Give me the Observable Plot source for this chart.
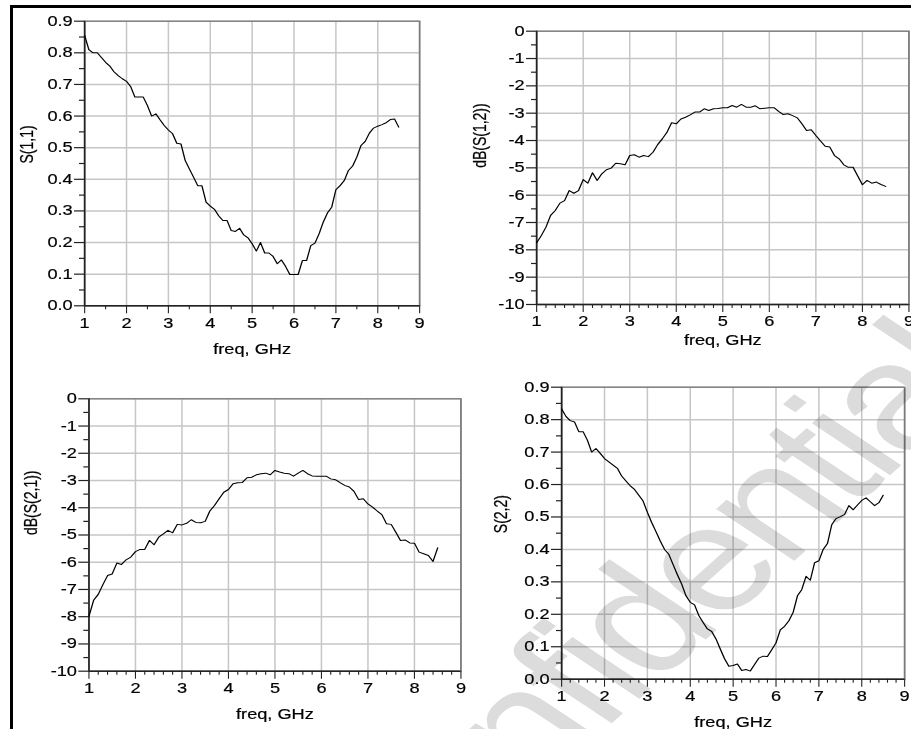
<!DOCTYPE html>
<html><head><meta charset="utf-8">
<script src="https://cdn.jsdelivr.net/npm/d3@7"></script>
<script src="https://cdn.jsdelivr.net/npm/@observablehq/plot@0.6"></script>
<style>
html,body{margin:0;padding:0;background:#fff;}
#root{position:relative;width:911px;height:729px;overflow:hidden;background:#fff;}
#border{position:absolute;left:10px;top:5px;width:920px;height:740px;border-left:3px solid #000;border-top:3px solid #000;}
.panel{position:absolute;transform-origin:0 0;}
#wm{position:absolute;left:0;top:0;mix-blend-mode:multiply;pointer-events:none;}
</style></head><body><div id="root"><div id="border"></div></div>
<script>
const freq = [1.0,1.1,1.2,1.3,1.4,1.5,1.6,1.7,1.8,1.9,
  2.0,2.1,2.2,2.3,2.4,2.5,2.6,2.7,2.8,2.9,
  3.0,3.1,3.2,3.3,3.4,3.5,3.6,3.7,3.8,3.9,
  4.0,4.1,4.2,4.3,4.4,4.5,4.6,4.7,4.8,4.9,
  5.0,5.1,5.2,5.3,5.4,5.5,5.6,5.7,5.8,5.9,
  6.0,6.1,6.2,6.3,6.4,6.5,6.6,6.7,6.8,6.9,
  7.0,7.1,7.2,7.3,7.4,7.5,7.6,7.7,7.8,7.9,
  8.0,8.1,8.2,8.3,8.4,8.5];
const s11 = [0.855,0.81,0.80,0.80,0.785,0.77,0.758,0.74,0.728,0.718,
  0.71,0.693,0.66,0.66,0.66,0.633,0.60,0.607,0.588,0.57,
  0.556,0.544,0.514,0.512,0.46,0.433,0.407,0.38,0.38,0.328,
  0.315,0.305,0.285,0.27,0.27,0.238,0.235,0.245,0.224,0.215,
  0.196,0.173,0.20,0.167,0.167,0.156,0.133,0.145,0.124,0.099,
  0.099,0.099,0.143,0.143,0.19,0.198,0.228,0.265,0.294,0.312,
  0.367,0.38,0.396,0.428,0.442,0.47,0.507,0.52,0.546,0.562,
  0.568,0.573,0.579,0.589,0.591,0.565];
const s12dB = [-7.74,-7.48,-7.17,-6.74,-6.56,-6.29,-6.2,-5.83,-5.93,-5.83,
  -5.43,-5.56,-5.18,-5.46,-5.22,-5.07,-5.01,-4.83,-4.85,-4.89,
  -4.55,-4.52,-4.61,-4.55,-4.59,-4.43,-4.15,-3.94,-3.7,-3.35,
  -3.39,-3.21,-3.15,-3.06,-2.96,-2.96,-2.84,-2.9,-2.84,-2.83,
  -2.8,-2.8,-2.72,-2.78,-2.68,-2.78,-2.78,-2.73,-2.84,-2.82,
  -2.8,-2.8,-2.93,-3.05,-3.02,-3.09,-3.17,-3.39,-3.63,-3.61,
  -3.82,-4.02,-4.21,-4.24,-4.55,-4.67,-4.89,-4.98,-4.98,-5.3,
  -5.62,-5.46,-5.56,-5.52,-5.61,-5.68];
const s21dB = [-7.99,-7.4,-7.18,-6.82,-6.49,-6.43,-6.03,-6.08,-5.91,-5.81,
  -5.61,-5.53,-5.53,-5.2,-5.36,-5.08,-4.96,-4.83,-4.92,-4.61,
  -4.63,-4.57,-4.44,-4.54,-4.55,-4.5,-4.12,-3.92,-3.67,-3.43,
  -3.33,-3.12,-3.08,-3.07,-2.9,-2.88,-2.79,-2.75,-2.73,-2.79,
  -2.63,-2.69,-2.73,-2.75,-2.84,-2.73,-2.63,-2.75,-2.83,-2.84,
  -2.84,-2.84,-2.94,-2.97,-3.08,-3.18,-3.24,-3.4,-3.7,-3.67,
  -3.86,-3.98,-4.12,-4.25,-4.59,-4.61,-4.9,-5.2,-5.18,-5.29,
  -5.3,-5.63,-5.69,-5.75,-5.97,-5.47];
const s22 = [0.833,0.81,0.797,0.793,0.763,0.763,0.737,0.70,0.711,0.696,
  0.68,0.67,0.66,0.65,0.626,0.611,0.596,0.585,0.567,0.549,
  0.514,0.483,0.455,0.426,0.40,0.385,0.353,0.322,0.293,0.257,
  0.237,0.229,0.196,0.175,0.155,0.147,0.124,0.093,0.063,0.04,
  0.042,0.047,0.027,0.03,0.025,0.045,0.065,0.071,0.07,0.091,
  0.112,0.152,0.163,0.18,0.206,0.257,0.276,0.317,0.305,0.359,
  0.365,0.40,0.418,0.476,0.495,0.501,0.508,0.535,0.522,0.537,
  0.551,0.559,0.547,0.535,0.544,0.567];

const freqTicks = [1,2,3,4,5,6,7,8,9];
const freqMinorHalf = [1.5,2.5,3.5,4.5,5.5,6.5,7.5,8.5];
const freqMinorFifth = [1.2,1.4,1.6,1.8,2.2,2.4,2.6,2.8,3.2,3.4,3.6,3.8,4.2,4.4,4.6,4.8,
  5.2,5.4,5.6,5.8,6.2,6.4,6.6,6.8,7.2,7.4,7.6,7.8,8.2,8.4,8.6,8.8];
const magTicks = [0,0.1,0.2,0.3,0.4,0.5,0.6,0.7,0.8,0.9];
const magMinor = [0.05,0.15,0.25,0.35,0.45,0.55,0.65,0.75,0.85];
const dbTicks = [0,-1,-2,-3,-4,-5,-6,-7,-8,-9,-10];
const dbMinor = [-0.5,-1.5,-2.5,-3.5,-4.5,-5.5,-6.5,-7.5,-8.5,-9.5];
const xLabel = "freq, GHz";
const yLabels = ["S(1,1)", "dB(S(1,2))", "dB(S(2,1))", "S(2,2)"];
const watermark = "Confidential";

const root = document.getElementById("root");
const FONT = "'Liberation Sans', Arial, Helvetica, sans-serif";
const SX = 1.3; // the reference is drawn horizontally stretched

function panel(cfg) {
  const [fx0, fx1, fy0, fy1] = cfg.frame;
  const width = cfg.width / SX;
  const marginLeft = (fx0 - cfg.left) / SX, marginRight = (cfg.left + cfg.width - fx1) / SX;
  const marginTop = fy0 - cfg.top, marginBottom = cfg.top + cfg.height - fy1;
  const data = freq.map((f, i) => ({f, v: cfg.values[i]}));
  const ymin = Math.min(...cfg.yDomain);
  const txt = {textStroke: "#000", textStrokeWidth: 0.2};
  const svg = Plot.plot({
    width, height: cfg.height,
    marginLeft, marginRight, marginTop, marginBottom,
    style: {fontFamily: FONT, fontSize: "14px", background: "transparent", color: "#000", overflow: "visible"},
    x: {domain: [1, 9], type: "linear"},
    y: {domain: cfg.yDomain, type: "linear"},
    marks: [
      Plot.gridX(freqTicks, {stroke: "#c6c6c6", strokeOpacity: 1, strokeWidth: 1.5 / SX}),
      Plot.gridY(cfg.yTicks, {stroke: "#c6c6c6", strokeOpacity: 1, strokeWidth: 1.5}),
      Plot.frame({stroke: "#7a7a7a", strokeWidth: 1.3}),
      Plot.axisX(cfg.xMinor, {tickSize: 4, fill: "none", stroke: "#222", strokeWidth: 1.1 / SX, label: null}),
      Plot.axisY(cfg.yMinor, {tickSize: 5 / SX, fill: "none", stroke: "#222", strokeWidth: 1.2, label: null}),
      Plot.axisX(freqTicks, {tickSize: 8, tickPadding: 4, stroke: "#222", strokeWidth: 1.1 / SX, fill: "#000", label: null, tickFormat: d => String(d), ...txt}),
      Plot.axisY(cfg.yTicks, {tickSize: 10 / SX, tickPadding: 2 / SX, stroke: "#222", strokeWidth: 1.2, fill: "#000", label: null, tickFormat: cfg.yFormat, ...txt}),
      Plot.ruleX([1], {stroke: "#222", strokeWidth: 1.5 / SX}),
      Plot.ruleY([ymin], {stroke: "#222", strokeWidth: 1.5}),
      Plot.line(data, {x: "f", y: "v", stroke: "#000", strokeWidth: 1}),
      Plot.text([xLabel], {text: d => d, frameAnchor: "bottom", lineAnchor: "middle", dy: cfg.xLabelDy, fill: "#000", stroke: "#000", strokeWidth: 0.2}),
      Plot.text([cfg.yLabel], {text: d => d, frameAnchor: "left", rotate: -90, lineAnchor: "middle", dx: cfg.yLabelDx / SX, fill: "#000", stroke: "#000", strokeWidth: 0.2})
    ]
  });
  const div = document.createElement("div");
  div.className = "panel";
  div.style.left = cfg.left + "px";
  div.style.top = cfg.top + "px";
  div.style.transform = `scaleX(${SX})`;
  div.appendChild(svg);
  root.appendChild(div);
}

const fmtMag = d => d.toFixed(1);
const fmtDb = d => String(d);

panel({left: 14, top: 9, width: 430, height: 355, frame: [84, 419, 20.7, 305.3],
  values: s11, yDomain: [0, 0.9], yTicks: magTicks, yMinor: magMinor, xMinor: freqMinorHalf,
  yFormat: fmtMag, yLabel: yLabels[0], xLabelDy: 44, yLabelDx: -57});
panel({left: 460, top: 10, width: 451, height: 345, frame: [536, 908.3, 30.7, 304],
  values: s12dB, yDomain: [-10, 0], yTicks: dbTicks, yMinor: dbMinor, xMinor: freqMinorFifth,
  yFormat: fmtDb, yLabel: yLabels[1], xLabelDy: 36, yLabelDx: -56});
panel({left: 14, top: 375, width: 460, height: 354, frame: [88.3, 460.3, 398.3, 670.7],
  values: s21dB, yDomain: [-10, 0], yTicks: dbTicks, yMinor: dbMinor, xMinor: freqMinorFifth,
  yFormat: fmtDb, yLabel: yLabels[2], xLabelDy: 43, yLabelDx: -58});
panel({left: 470, top: 370, width: 441, height: 359, frame: [561, 904, 386.7, 678.7],
  values: s22, yDomain: [0, 0.9], yTicks: magTicks, yMinor: magMinor, xMinor: freqMinorFifth,
  yFormat: fmtMag, yLabel: yLabels[3], xLabelDy: 43, yLabelDx: -60});

// watermark overlay
const ns = "http://www.w3.org/2000/svg";
const wm = document.createElementNS(ns, "svg");
wm.setAttribute("id", "wm");
wm.setAttribute("width", 911);
wm.setAttribute("height", 729);
const wt = document.createElementNS(ns, "text");
wt.setAttribute("transform", "translate(382,928) scale(1.3,1) rotate(-49.2)");
wt.setAttribute("font-family", FONT);
wt.setAttribute("font-size", 150);
wt.setAttribute("letter-spacing", -6);
wt.setAttribute("fill", "#dcdcdc");
wt.textContent = watermark;
wm.appendChild(wt);
root.appendChild(wm);
</script>
</body></html>
